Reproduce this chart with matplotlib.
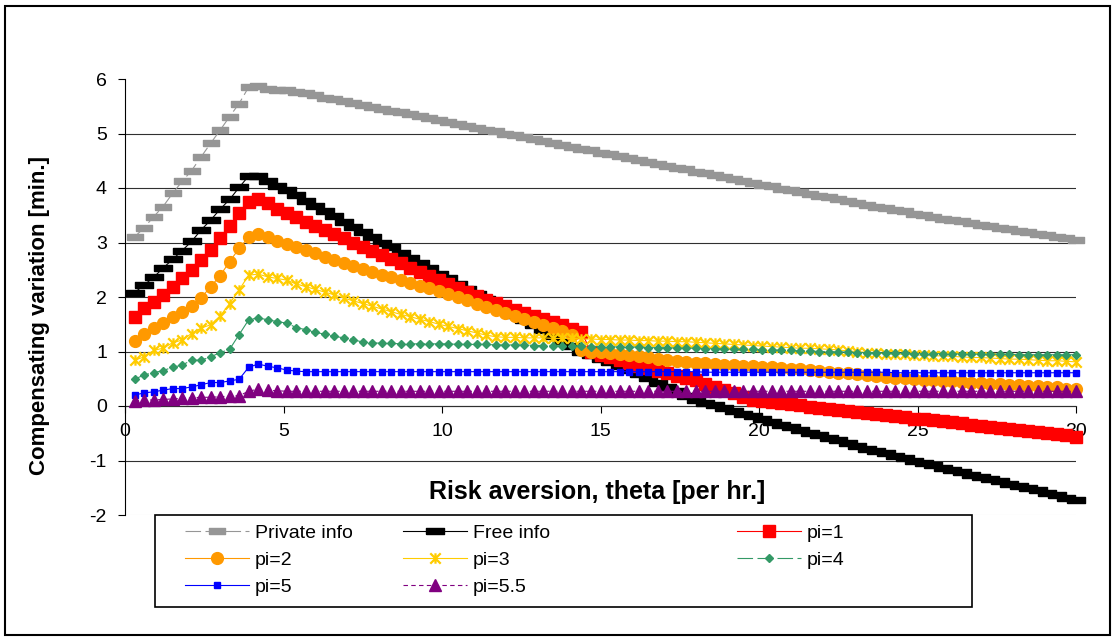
import matplotlib
matplotlib.use("Agg")
import matplotlib.pyplot as plt
from matplotlib.patches import Rectangle
from matplotlib.path import Path

plt.rcParams["font.family"] = ["Liberation Sans", "DejaVu Sans"]
plt.rcParams["axes.unicode_minus"] = False

# risk aversion theta [per hr.]
theta = [
    0.3, 0.6, 0.9, 1.2, 1.5, 1.8, 2.1, 2.4, 2.7, 3.0,
    3.3, 3.6, 3.9, 4.2, 4.5, 4.8, 5.1, 5.4, 5.7, 6.0,
    6.3, 6.6, 6.9, 7.2, 7.5, 7.8, 8.1, 8.4, 8.7, 9.0,
    9.3, 9.6, 9.9, 10.2, 10.5, 10.8, 11.1, 11.4, 11.7, 12.0,
    12.3, 12.6, 12.9, 13.2, 13.5, 13.8, 14.1, 14.4, 14.7, 15.0,
    15.3, 15.6, 15.9, 16.2, 16.5, 16.8, 17.1, 17.4, 17.7, 18.0,
    18.3, 18.6, 18.9, 19.2, 19.5, 19.8, 20.1, 20.4, 20.7, 21.0,
    21.3, 21.6, 21.9, 22.2, 22.5, 22.8, 23.1, 23.4, 23.7, 24.0,
    24.3, 24.6, 24.9, 25.2, 25.5, 25.8, 26.1, 26.4, 26.7, 27.0,
    27.3, 27.6, 27.9, 28.2, 28.5, 28.8, 29.1, 29.4, 29.7, 30.0,
]

private_info = [
    3.10, 3.27, 3.47, 3.66, 3.90, 4.12, 4.32, 4.57, 4.82, 5.06,
    5.31, 5.55, 5.85, 5.87, 5.82, 5.80, 5.79, 5.77, 5.74, 5.70,
    5.66, 5.63, 5.59, 5.56, 5.52, 5.49, 5.45, 5.42, 5.39, 5.35,
    5.32, 5.28, 5.25, 5.21, 5.18, 5.14, 5.11, 5.07, 5.04, 5.00,
    4.97, 4.93, 4.90, 4.86, 4.83, 4.79, 4.76, 4.72, 4.69, 4.65,
    4.62, 4.58, 4.55, 4.51, 4.48, 4.44, 4.41, 4.37, 4.34, 4.30,
    4.27, 4.23, 4.20, 4.16, 4.13, 4.09, 4.06, 4.03, 3.99, 3.96,
    3.93, 3.89, 3.86, 3.83, 3.79, 3.76, 3.73, 3.69, 3.66, 3.63,
    3.60, 3.57, 3.53, 3.50, 3.47, 3.44, 3.42, 3.39, 3.36, 3.33,
    3.30, 3.27, 3.25, 3.22, 3.19, 3.16, 3.13, 3.11, 3.08, 3.05,
]

free_info = [
    2.08, 2.22, 2.36, 2.53, 2.69, 2.85, 3.02, 3.23, 3.41, 3.61,
    3.79, 4.01, 4.22, 4.22, 4.12, 4.04, 3.96, 3.87, 3.77, 3.67,
    3.58, 3.48, 3.38, 3.29, 3.19, 3.10, 3.00, 2.91, 2.81, 2.72,
    2.62, 2.53, 2.43, 2.34, 2.24, 2.15, 2.05, 1.96, 1.86, 1.77,
    1.67, 1.58, 1.48, 1.39, 1.29, 1.19, 1.10, 1.00, 0.93, 0.87,
    0.80, 0.73, 0.66, 0.58, 0.51, 0.43, 0.35, 0.27, 0.19, 0.11,
    0.06, 0.01, -0.04, -0.09, -0.14, -0.19, -0.24, -0.29, -0.34, -0.39,
    -0.44, -0.49, -0.54, -0.58, -0.63, -0.68, -0.73, -0.78, -0.83, -0.87,
    -0.92, -0.96, -1.01, -1.05, -1.09, -1.13, -1.17, -1.22, -1.26, -1.30,
    -1.34, -1.38, -1.43, -1.47, -1.51, -1.55, -1.59, -1.64, -1.68, -1.72,
]

pi_1 = [
    1.64, 1.79, 1.91, 2.04, 2.18, 2.34, 2.50, 2.68, 2.86, 3.08,
    3.30, 3.54, 3.75, 3.79, 3.72, 3.61, 3.54, 3.46, 3.38, 3.31,
    3.23, 3.15, 3.08, 3.00, 2.92, 2.85, 2.77, 2.69, 2.62, 2.54,
    2.46, 2.39, 2.31, 2.24, 2.16, 2.09, 2.02, 1.95, 1.89, 1.83,
    1.77, 1.71, 1.65, 1.59, 1.54, 1.48, 1.42, 1.36, 0.99, 0.94,
    0.89, 0.84, 0.79, 0.74, 0.70, 0.65, 0.60, 0.55, 0.51, 0.47,
    0.41, 0.35, 0.29, 0.23, 0.17, 0.11, 0.09, 0.07, 0.05, 0.03,
    0.01, -0.01, -0.03, -0.05, -0.07, -0.09, -0.11, -0.13, -0.15, -0.17,
    -0.19, -0.21, -0.23, -0.24, -0.26, -0.28, -0.30, -0.32, -0.34, -0.36,
    -0.38, -0.40, -0.42, -0.44, -0.46, -0.48, -0.50, -0.52, -0.54, -0.56,
]

pi_2 = [
    1.20, 1.32, 1.43, 1.52, 1.63, 1.73, 1.84, 1.98, 2.19, 2.39,
    2.65, 2.89, 3.10, 3.16, 3.10, 3.03, 2.98, 2.91, 2.86, 2.80,
    2.74, 2.68, 2.62, 2.57, 2.51, 2.46, 2.41, 2.36, 2.31, 2.26,
    2.21, 2.16, 2.11, 2.06, 2.00, 1.94, 1.88, 1.82, 1.76, 1.70,
    1.65, 1.60, 1.55, 1.49, 1.43, 1.37, 1.31, 1.02, 1.00, 0.99,
    0.97, 0.95, 0.93, 0.91, 0.89, 0.87, 0.85, 0.83, 0.81, 0.79,
    0.78, 0.77, 0.76, 0.75, 0.74, 0.73, 0.72, 0.71, 0.69, 0.68,
    0.67, 0.66, 0.64, 0.63, 0.61, 0.60, 0.58, 0.56, 0.55, 0.53,
    0.52, 0.51, 0.49, 0.48, 0.47, 0.46, 0.45, 0.44, 0.43, 0.42,
    0.41, 0.40, 0.39, 0.38, 0.37, 0.36, 0.35, 0.34, 0.32, 0.31,
]

pi_3 = [
    0.84, 0.90, 1.02, 1.06, 1.16, 1.21, 1.33, 1.43, 1.49, 1.65,
    1.88, 2.13, 2.40, 2.42, 2.37, 2.34, 2.31, 2.24, 2.19, 2.14,
    2.09, 2.04, 1.98, 1.93, 1.88, 1.83, 1.78, 1.73, 1.68, 1.64,
    1.59, 1.55, 1.50, 1.46, 1.42, 1.38, 1.34, 1.30, 1.27, 1.26,
    1.26, 1.25, 1.25, 1.25, 1.24, 1.24, 1.24, 1.23, 1.23, 1.22,
    1.22, 1.21, 1.21, 1.20, 1.20, 1.19, 1.19, 1.18, 1.18, 1.17,
    1.16, 1.15, 1.14, 1.13, 1.12, 1.11, 1.10, 1.09, 1.08, 1.07,
    1.06, 1.06, 1.05, 1.04, 1.03, 1.01, 1.00, 0.98, 0.97, 0.96,
    0.95, 0.95, 0.94, 0.93, 0.92, 0.92, 0.91, 0.90, 0.89, 0.89,
    0.88, 0.87, 0.86, 0.86, 0.85, 0.84, 0.83, 0.83, 0.82, 0.81,
]

pi_4 = [
    0.49, 0.57, 0.61, 0.65, 0.71, 0.75, 0.84, 0.84, 0.90, 0.98,
    1.04, 1.31, 1.58, 1.62, 1.58, 1.55, 1.52, 1.44, 1.40, 1.35,
    1.32, 1.28, 1.25, 1.22, 1.17, 1.16, 1.15, 1.15, 1.14, 1.14,
    1.14, 1.14, 1.14, 1.14, 1.13, 1.13, 1.13, 1.13, 1.12, 1.12,
    1.12, 1.12, 1.11, 1.11, 1.11, 1.10, 1.10, 1.10, 1.09, 1.09,
    1.09, 1.08, 1.08, 1.08, 1.07, 1.07, 1.07, 1.06, 1.06, 1.06,
    1.05, 1.05, 1.05, 1.04, 1.04, 1.04, 1.03, 1.03, 1.02, 1.02,
    1.01, 1.01, 1.00, 1.00, 0.99, 0.99, 0.98, 0.98, 0.98, 0.97,
    0.97, 0.97, 0.96, 0.96, 0.96, 0.96, 0.96, 0.95, 0.95, 0.95,
    0.95, 0.95, 0.95, 0.94, 0.94, 0.94, 0.94, 0.94, 0.94, 0.94,
]

pi_5 = [
    0.20, 0.24, 0.26, 0.29, 0.32, 0.32, 0.35, 0.39, 0.43, 0.43,
    0.46, 0.49, 0.71, 0.77, 0.73, 0.70, 0.66, 0.64, 0.63, 0.63,
    0.63, 0.63, 0.63, 0.63, 0.63, 0.63, 0.63, 0.63, 0.63, 0.63,
    0.63, 0.63, 0.63, 0.63, 0.63, 0.63, 0.63, 0.63, 0.63, 0.63,
    0.63, 0.63, 0.63, 0.63, 0.63, 0.63, 0.63, 0.63, 0.63, 0.63,
    0.63, 0.63, 0.63, 0.63, 0.63, 0.63, 0.63, 0.63, 0.63, 0.63,
    0.62, 0.62, 0.62, 0.62, 0.62, 0.62, 0.62, 0.62, 0.62, 0.62,
    0.62, 0.62, 0.62, 0.62, 0.62, 0.62, 0.62, 0.62, 0.62, 0.62,
    0.61, 0.61, 0.61, 0.61, 0.61, 0.61, 0.61, 0.61, 0.61, 0.61,
    0.61, 0.61, 0.61, 0.61, 0.61, 0.61, 0.61, 0.61, 0.61, 0.61,
]

pi_55 = [
    0.10, 0.11, 0.11, 0.12, 0.13, 0.14, 0.15, 0.16, 0.16, 0.17,
    0.18, 0.19, 0.27, 0.31, 0.29, 0.28, 0.27, 0.27, 0.27, 0.27,
    0.27, 0.27, 0.27, 0.27, 0.27, 0.27, 0.27, 0.27, 0.27, 0.27,
    0.27, 0.27, 0.27, 0.27, 0.27, 0.27, 0.27, 0.27, 0.27, 0.27,
    0.27, 0.27, 0.27, 0.27, 0.27, 0.27, 0.27, 0.27, 0.27, 0.27,
    0.27, 0.27, 0.27, 0.27, 0.27, 0.27, 0.27, 0.27, 0.27, 0.27,
    0.27, 0.27, 0.27, 0.27, 0.27, 0.27, 0.27, 0.27, 0.27, 0.27,
    0.27, 0.27, 0.27, 0.27, 0.27, 0.27, 0.27, 0.27, 0.27, 0.27,
    0.27, 0.27, 0.27, 0.27, 0.27, 0.27, 0.27, 0.27, 0.27, 0.27,
    0.27, 0.27, 0.27, 0.27, 0.27, 0.27, 0.27, 0.27, 0.27, 0.27,
]

W, H = 1116, 641
fig = plt.figure(figsize=(W / 100, H / 100), dpi=100)
# plot area in pixels: x 125..1076, y 79..515
ax = fig.add_axes([125 / W, 1 - 515 / H, (1076 - 125) / W, (515 - 79) / H])

bar_marker = [(-1.5, -0.5), (1.5, -0.5), (1.5, 0.5), (-1.5, 0.5), (-1.5, -0.5)]
# Excel style asterisk: an X with a vertical bar through it
star_marker = Path(
    [(-1, -1), (1, 1), (-1, 1), (1, -1), (0, -1), (0, 1)],
    [Path.MOVETO, Path.LINETO, Path.MOVETO, Path.LINETO, Path.MOVETO, Path.LINETO],
)

series = [
    ("Private info", private_info, dict(color="#969696", lw=0.8, ls=(0, (14, 4)),
                                        marker=bar_marker, ms=11, mec="#969696")),
    ("Free info", free_info, dict(color="black", lw=0.8, ls="-",
                                  marker=bar_marker, ms=12.5, mec="black")),
    ("pi=1", pi_1, dict(color="#FF0000", lw=0.8, ls="-", marker="s", ms=9, mec="#FF0000")),
    ("pi=2", pi_2, dict(color="#FF9900", lw=0.8, ls="-", marker="o", ms=8.5, mec="#FF9900")),
    ("pi=3", pi_3, dict(color="#FFCC00", lw=0.8, ls="-", marker=star_marker, ms=7.5,
                        mec="#FFCC00", mew=1.6)),
    ("pi=4", pi_4, dict(color="#339966", lw=0.8, ls=(0, (14, 4)), marker="D", ms=4.5,
                        mec="#339966")),
    ("pi=5", pi_5, dict(color="#0000FF", lw=0.8, ls="-", marker="s", ms=4.5, mec="#0000FF")),
    ("pi=5.5", pi_55, dict(color="#800080", lw=0.8, ls=(0, (4, 3)), marker="^", ms=8,
                           mec="#800080")),
]

lines = {}
for name, vals, style in series:
    (ln,) = ax.plot(theta, vals, label=name, clip_on=False, zorder=3, **style)
    lines[name] = ln

ax.set_xlim(0, 30)
ax.set_ylim(-2, 6)
ax.set_xticks([0, 5, 10, 15, 20, 25, 30])
ax.set_yticks(range(-2, 7))
for yv in range(-1, 6):
    ax.axhline(yv, color="#303030", lw=0.8, zorder=1)
ax.axhline(-2, color="#dddddd", lw=0.8, zorder=1)

for side in ("top", "right"):
    ax.spines[side].set_visible(False)
ax.spines["bottom"].set_position(("data", 0))
ax.spines["bottom"].set_color("#303030")
ax.spines["left"].set_zorder(4)
ax.tick_params(axis="x", direction="out", length=5, width=0.8, pad=7, labelsize=14)
ax.tick_params(axis="y", direction="out", length=5, width=0.8, pad=8, labelsize=14)

ax.set_ylabel("Compensating variation [min.]", fontsize=16, fontweight="bold")
ax.yaxis.set_label_coords(50 / W, 1 - 316 / H, transform=fig.transFigure)
fig.text(597 / W, 1 - 492 / H, "Risk aversion, theta [per hr.]",
         ha="center", va="center", fontsize=18, fontweight="bold")

# legend: three columns inside one box
columns = [
    (185, ["Private info", "pi=2", "pi=5"]),
    (403, ["Free info", "pi=3", "pi=5.5"]),
    (737, ["pi=1", "pi=4"]),
]
for x_px, names in columns:
    fig.legend([lines[n] for n in names], names, loc="upper left",
               bbox_to_anchor=(x_px / W, 1 - 524 / H), frameon=False,
               borderpad=0, borderaxespad=0, handlelength=3.3,
               handletextpad=0.3, labelspacing=0.5, fontsize=14)
fig.patches.append(Rectangle((155 / W, 1 - 607 / H), (972 - 155) / W, (607 - 515) / H,
                             transform=fig.transFigure, fill=False, ec="black", lw=1.2))
fig.patches.append(Rectangle((5 / W, 6 / H), (1110 - 5) / W, (635 - 6) / H,
                             transform=fig.transFigure, fill=False, ec="black", lw=1.5))

fig.savefig("out.png", dpi=100)
